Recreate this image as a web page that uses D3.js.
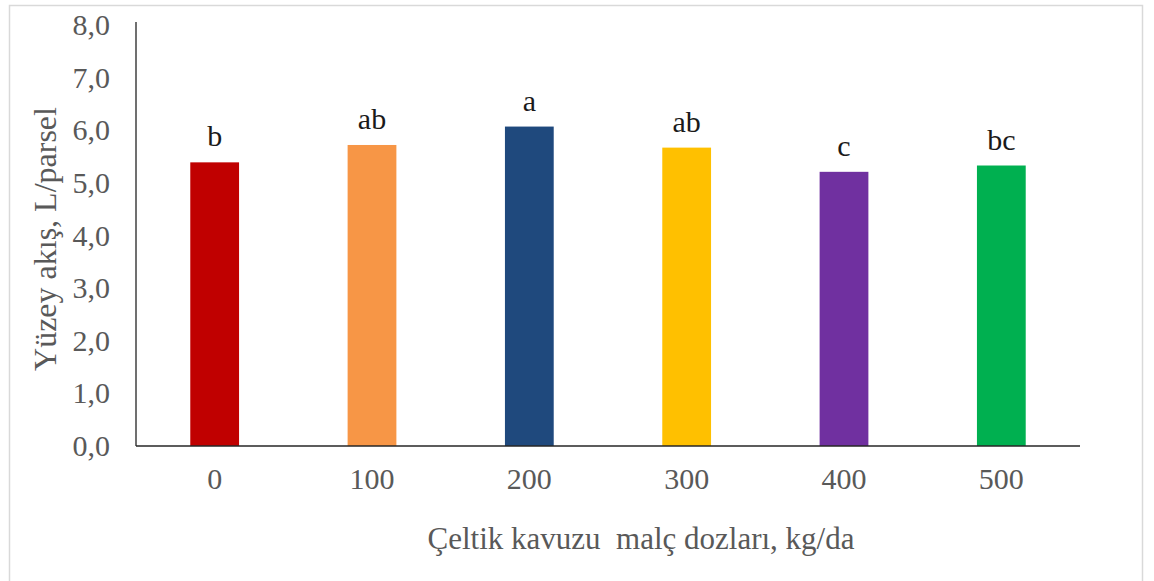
<!DOCTYPE html>
<html>
<head>
<meta charset="utf-8">
<script src="https://cdn.jsdelivr.net/npm/d3@7"></script>
<style>
  html, body { margin: 0; padding: 0; background: #fff; }
  svg { display: block; }
  svg text { font-family: "Liberation Serif", "Times New Roman", Tinos, "Noto Serif", "DejaVu Serif", serif !important; }
</style>
</head>
<body>
<svg id="chart" width="1154" height="581"></svg>
<script>
const categories = ["0", "100", "200", "300", "400", "500"];
const values = [5.39, 5.72, 6.07, 5.67, 5.21, 5.33];
const letters = ["b", "ab", "a", "ab", "c", "bc"];
const colors = ["#C00000", "#F79646", "#1F497D", "#FFC000", "#7030A0", "#00B050"];
const yTicks = [0, 1, 2, 3, 4, 5, 6, 7, 8];
const yTitle = "Yüzey akış, L/parsel";
const xTitle = "Çeltik kavuzu  malç dozları, kg/da";

(function () {
const svg = d3.select("#chart");
const FONT = '"Liberation Serif", "Times New Roman", Tinos, "Noto Serif", "DejaVu Serif", serif';

// outer chart border
svg.append("rect")
  .attr("x", 9.5).attr("y", 5.5)
  .attr("width", 1133).attr("height", 590)
  .attr("fill", "#fff")
  .attr("stroke", "#d9d9d9").attr("stroke-width", 1.5);

const mLeft = 136, mRight = 1080, mTop = 25, mBottom = 446;

const x = d3.scaleBand()
  .domain(categories)
  .range([mLeft, mRight])
  .paddingInner(0.69)
  .paddingOuter(0.345);

const y = d3.scaleLinear()
  .domain([0, 8])
  .range([mBottom, mTop]);

// bars
svg.append("g").selectAll("rect")
  .data(categories)
  .join("rect")
  .attr("x", d => x(d))
  .attr("y", (d, i) => y(values[i]))
  .attr("width", x.bandwidth())
  .attr("height", (d, i) => y(0) - y(values[i]))
  .attr("fill", (d, i) => colors[i]);

// significance letters
svg.append("g").selectAll("text")
  .data(categories)
  .join("text")
  .attr("x", d => x(d) + x.bandwidth() / 2)
  .attr("y", (d, i) => y(values[i]) - 16)
  .attr("text-anchor", "middle")
  .style("font-family", FONT)
  .style("font-size", "30px")
  .attr("fill", "#1a1a1a")
  .text((d, i) => letters[i]);

// y axis
const yAxis = d3.axisLeft(y)
  .tickValues(yTicks)
  .tickSize(0)
  .tickPadding(26)
  .tickFormat(d => d3.format(".1f")(d).replace(".", ","));
const gy = svg.append("g")
  .attr("transform", `translate(${mLeft},0)`)
  .call(yAxis);
gy.select(".domain").remove();
gy.attr("font-family", null).attr("font-size", null);
gy.selectAll("text")
  .style("font-family", FONT)
  .style("font-size", "30px")
  .attr("fill", "#595959");
svg.append("line")
  .attr("x1", mLeft).attr("x2", mLeft)
  .attr("y1", 22).attr("y2", mBottom)
  .attr("stroke", "#404040").attr("stroke-width", 1.5);

// x axis
const xAxis = d3.axisBottom(x).tickSize(0).tickPadding(22);
const gx = svg.append("g")
  .attr("transform", `translate(0,${mBottom})`)
  .call(xAxis);
gx.select(".domain").remove();
gx.attr("font-family", null).attr("font-size", null);
gx.selectAll("text")
  .style("font-family", FONT)
  .style("font-size", "30px")
  .attr("fill", "#595959");
svg.append("line")
  .attr("x1", mLeft).attr("x2", mRight)
  .attr("y1", mBottom).attr("y2", mBottom)
  .attr("stroke", "#262626").attr("stroke-width", 1.5);

// axis titles
svg.append("text")
  .attr("transform", `translate(56,239) rotate(-90)`)
  .attr("text-anchor", "middle")
  .style("font-family", FONT)
  .style("font-size", "32px")
  .attr("fill", "#595959")
  .text(yTitle);

svg.append("text")
  .attr("x", 641).attr("y", 549)
  .attr("text-anchor", "middle")
  .style("font-family", FONT)
  .style("font-size", "31px")
  .attr("fill", "#595959")
  .style("white-space", "pre")
  .text(xTitle);
})();
</script>
</body>
</html>
